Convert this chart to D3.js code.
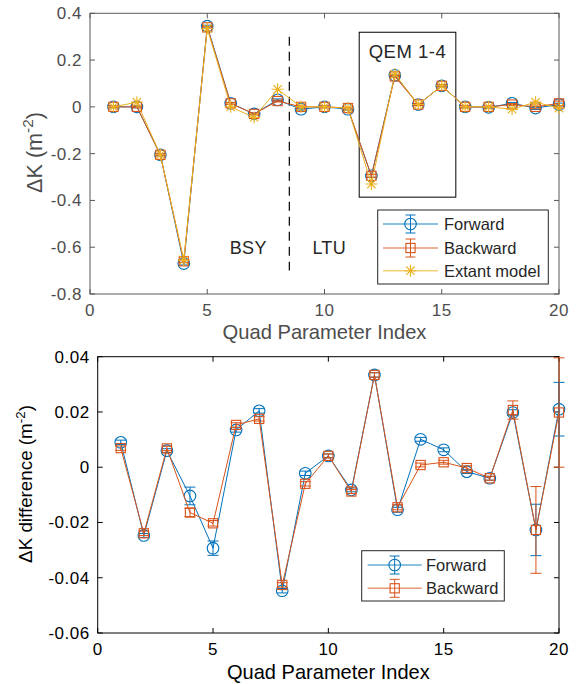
<!DOCTYPE html>
<html><head><meta charset="utf-8">
<script src="https://cdn.jsdelivr.net/npm/d3@7"></script>
<style>body{margin:0;background:#fff}svg{display:block;font-family:"Liberation Sans",Arial,sans-serif}</style>
</head><body><svg id="c" width="576" height="684"></svg>
<script>
// ---------- data ----------
const idx = [1,2,3,4,5,6,7,8,9,10,11,12,13,14,15,16,17,18,19,20];
// Top panel: Delta K (m^-2)
const topForward  = [0,0,-0.205,-0.67,0.345,0.015,-0.03,0.03,-0.01,0,-0.01,-0.295,0.135,0.01,0.09,0,-0.002,0.015,-0.005,0.01];
const topForwardErr = [0.004,0.004,0.004,0.006,0.004,0.004,0.004,0.004,0.004,0.004,0.004,0.006,0.004,0.004,0.004,0.004,0.004,0.004,0.006,0.006];
const topBackward = [0,0,-0.205,-0.66,0.34,0.015,-0.03,0.025,0,0,-0.005,-0.295,0.13,0.01,0.09,0,0,0.01,0,0.015];
const topBackwardErr = [0.004,0.004,0.004,0.006,0.004,0.004,0.004,0.004,0.004,0.004,0.004,0.006,0.004,0.004,0.004,0.004,0.004,0.004,0.008,0.01];
const topExtant   = [0,0.02,-0.205,-0.655,0.335,0,-0.045,0.075,0,0,-0.005,-0.33,0.14,0.01,0.09,0,0,-0.01,0.02,-0.005];
const topYTicks = [0.4,0.2,0,-0.2,-0.4,-0.6,-0.8];
const topYLabels = ["0.4","0.2","0","-0.2","-0.4","-0.6","-0.8"];
// Bottom panel: Delta K difference (m^-2)
const botForward  = [0.009,-0.0247,0.006,-0.0104,-0.0293,0.0135,0.0204,-0.0447,-0.0022,0.0041,-0.0082,0.0334,-0.0154,0.0101,0.0063,-0.0016,-0.004,0.0198,-0.0227,0.021];
const botForwardErr = [0.0008,0.0007,0.0007,0.0032,0.0026,0.0008,0.0008,0.0008,0.0008,0.0007,0.0007,0.0008,0.0009,0.0007,0.0007,0.0007,0.0007,0.001,0.0093,0.0097];
const botBackward = [0.0069,-0.0239,0.0068,-0.0164,-0.0203,0.0153,0.0175,-0.0426,-0.006,0.0041,-0.0088,0.0334,-0.0145,0.0008,0.0018,-0.0003,-0.004,0.0207,-0.0227,0.0198];
const botBackwardErr = [0.0008,0.0008,0.0008,0.0015,0.001,0.0008,0.0008,0.0008,0.0008,0.0007,0.0007,0.0008,0.0009,0.0007,0.0007,0.0008,0.0007,0.0033,0.0157,0.0198];
const botYTicks = [0.04,0.02,0,-0.02,-0.04,-0.06];
const botYLabels = ["0.04","0.02","0","-0.02","-0.04","-0.06"];
const xTicks = [0,5,10,15,20];
const seriesNames = ["Forward","Backward","Extant model"];
const regionLabels = ["BSY","LTU","QEM 1-4"];

const BLUE="#0072BD", ORANGE="#D95319", YELLOW="#EDB120";
const svg = d3.select("#c");

function starPath(r){return `M${-r},0L${r},0M0,${-r}L0,${r}M${-r*0.7},${-r*0.7}L${r*0.7},${r*0.7}M${-r*0.7},${r*0.7}L${r*0.7},${-r*0.7}`;}

function marker(g, type, x, y, color){
  if(type==="circle") g.append("circle").attr("cx",x).attr("cy",y).attr("r",5.8).attr("fill","none").attr("stroke",color).attr("stroke-width",1.1);
  else if(type==="square") g.append("rect").attr("x",x-4.6).attr("y",y-4.6).attr("width",9.2).attr("height",9.2).attr("fill","none").attr("stroke",color).attr("stroke-width",1.1);
  else g.append("path").attr("d",starPath(6)).attr("transform",`translate(${x},${y})`).attr("fill","none").attr("stroke",color).attr("stroke-width",1.1);
}

function errSeries(g, x, y, vals, errs, color, type){
  const line = d3.line().x((d,i)=>x(idx[i])).y(d=>y(d));
  g.append("path").datum(vals).attr("d",line).attr("fill","none").attr("stroke",color).attr("stroke-width",1);
  if(errs){
    vals.forEach((v,i)=>{
      const xx=x(idx[i]), y1=y(v+errs[i]), y2=y(v-errs[i]);
      g.append("line").attr("x1",xx).attr("x2",xx).attr("y1",y1).attr("y2",y2).attr("stroke",color).attr("stroke-width",1);
      [y1,y2].forEach(yy=>g.append("line").attr("x1",xx-5.5).attr("x2",xx+5.5).attr("y1",yy).attr("y2",yy).attr("stroke",color).attr("stroke-width",1));
    });
  }
  vals.forEach((v,i)=>marker(g,type,x(idx[i]),y(v),color));
}

// scale a text's font so that its rendered length matches a target length
function fitText(sel, target){
  const fs = +sel.attr("font-size");
  const len = sel.node().getComputedTextLength();
  if(len>0){
    const k = target/len;
    sel.attr("font-size", fs*k);
    sel.selectAll("tspan").each(function(){const t=d3.select(this); if(t.attr("font-size")) t.attr("font-size",+t.attr("font-size")*k); if(t.attr("dy")) t.attr("dy",+t.attr("dy")*k);});
  }
}

function axesFrame(x, y, yTicks, yLabels, axisColor, textColor, xLabel, yLabelMain, yLabX, yLabY, xLabY, xLabLen, yLabLen){
  const [x0,x1]=x.range(), [y0,y1]=y.range();
  const g = svg.append("g");
  g.append("rect").attr("x",x0).attr("y",y1).attr("width",x1-x0).attr("height",y0-y1).attr("fill","none").attr("stroke",axisColor).attr("stroke-width",1);
  const tl=5;
  xTicks.forEach((t,i)=>{
    const xx=x(t);
    g.append("line").attr("x1",xx).attr("x2",xx).attr("y1",y0).attr("y2",y0-tl).attr("stroke",axisColor);
    g.append("line").attr("x1",xx).attr("x2",xx).attr("y1",y1).attr("y2",y1+tl).attr("stroke",axisColor);
    g.append("text").attr("x",xx).attr("y",y0+21.5).attr("text-anchor","middle").attr("font-size",17).attr("letter-spacing",0.5).attr("fill",textColor).text(String(t));
  });
  yTicks.forEach((t,i)=>{
    const yy=y(t);
    g.append("line").attr("x1",x0).attr("x2",x0+tl).attr("y1",yy).attr("y2",yy).attr("stroke",axisColor);
    g.append("line").attr("x1",x1).attr("x2",x1-tl).attr("y1",yy).attr("y2",yy).attr("stroke",axisColor);
    g.append("text").attr("x",x0-8).attr("y",yy+6).attr("text-anchor","end").attr("font-size",17).attr("letter-spacing",0.5).attr("fill",textColor).text(yLabels[i]);
  });
  const xl = g.append("text").attr("x",(x0+x1)/2).attr("y",xLabY).attr("text-anchor","middle").attr("font-size",19.5).attr("fill",textColor).text(xLabel);
  fitText(xl, xLabLen);
  const yl = g.append("text").attr("transform",`translate(${yLabX},${yLabY}) rotate(-90)`).attr("text-anchor","middle").attr("font-size",19).attr("fill",textColor);
  yl.append("tspan").text(yLabelMain+" (m");
  yl.append("tspan").attr("font-size",13.5).attr("dy",-7.5).text("-2");
  yl.append("tspan").attr("dy",7.5).text(")");
  fitText(yl, yLabLen);
  return g;
}

function legend(lx, ly, w, h, entries, lineX0, lineX1, textX, rowYs){
  const g = svg.append("g");
  g.append("rect").attr("x",lx).attr("y",ly).attr("width",w).attr("height",h).attr("fill","#fff").attr("stroke","#262626").attr("stroke-width",1);
  entries.forEach((e,i)=>{
    const yy=rowYs[i], mx=(lineX0+lineX1)/2;
    g.append("line").attr("x1",lineX0).attr("x2",lineX1).attr("y1",yy).attr("y2",yy).attr("stroke",e.color).attr("stroke-opacity",0.6).attr("stroke-width",1.5);
    if(e.err){
      g.append("line").attr("x1",mx).attr("x2",mx).attr("y1",yy-9).attr("y2",yy+9).attr("stroke",e.color);
      [yy-9,yy+9].forEach(q=>g.append("line").attr("x1",mx-5).attr("x2",mx+5).attr("y1",q).attr("y2",q).attr("stroke",e.color));
    }
    marker(g,e.type,mx,yy,e.color);
    g.append("text").attr("x",textX).attr("y",yy+6).attr("font-size",16.5).attr("fill","#262626").text(e.name);
  });
}

// ---------- top panel ----------
const xT = d3.scaleLinear().domain([0,20]).range([90,559]);
const yT = d3.scaleLinear().domain([-0.8,0.4]).range([294,13.3]);
const TXT_T="#4d4d4d";
axesFrame(xT,yT,topYTicks,topYLabels,"#595959",TXT_T,"Quad Parameter Index","\u0394K",42,152.5,339,204,81);
const gT = svg.append("g");
// dashed divider
gT.append("line").attr("x1",xT(8.5)).attr("x2",xT(8.5)).attr("y1",yT(0.3)).attr("y2",yT(-0.7)).attr("stroke","#000").attr("stroke-width",1.2).attr("stroke-dasharray","9,6");
gT.append("text").attr("x",xT(6.75)).attr("y",yT(-0.6)+6.5).attr("text-anchor","middle").attr("font-size",18).attr("letter-spacing",0.3).attr("fill","#262626").text(regionLabels[0]);
gT.append("text").attr("x",xT(10.2)).attr("y",yT(-0.6)+6.5).attr("text-anchor","middle").attr("font-size",18).attr("letter-spacing",0.3).attr("fill","#262626").text(regionLabels[1]);
// QEM box
gT.append("rect").attr("x",xT(11.48)).attr("y",yT(0.319)).attr("width",xT(15.6)-xT(11.48)).attr("height",yT(-0.386)-yT(0.319)).attr("fill","none").attr("stroke","#000").attr("stroke-width",1);
gT.append("text").attr("x",(xT(11.48)+xT(15.6))/2).attr("y",yT(0.319)+26).attr("text-anchor","middle").attr("font-size",18.5).attr("letter-spacing",0.5).attr("fill","#262626").text(regionLabels[2]);
errSeries(gT,xT,yT,topForward,topForwardErr,BLUE,"circle");
errSeries(gT,xT,yT,topBackward,topBackwardErr,ORANGE,"square");
errSeries(gT,xT,yT,topExtant,null,YELLOW,"star");
legend(377.7,210,170.6,74,[
  {name:seriesNames[0],color:BLUE,type:"circle",err:true},
  {name:seriesNames[1],color:ORANGE,type:"square",err:true},
  {name:seriesNames[2],color:YELLOW,type:"star",err:false}],383,438,444,[224,248,270.7]);

// ---------- bottom panel ----------
const xB = d3.scaleLinear().domain([0,20]).range([97.7,559]);
const yB = d3.scaleLinear().domain([-0.06,0.04]).range([633,356.7]);
axesFrame(xB,yB,botYTicks,botYLabels,"#000","#000","Quad Parameter Index","\u0394K difference",32,484,679,203,158);
const gB = svg.append("g");
errSeries(gB,xB,yB,botForward,botForwardErr,BLUE,"circle");
errSeries(gB,xB,yB,botBackward,botBackwardErr,ORANGE,"square");
legend(361.7,550.7,142.6,50.3,[
  {name:seriesNames[0],color:BLUE,type:"circle",err:true},
  {name:seriesNames[1],color:ORANGE,type:"square",err:true}],367.7,421.7,426,[565,588.3]);
</script>
</body></html>
